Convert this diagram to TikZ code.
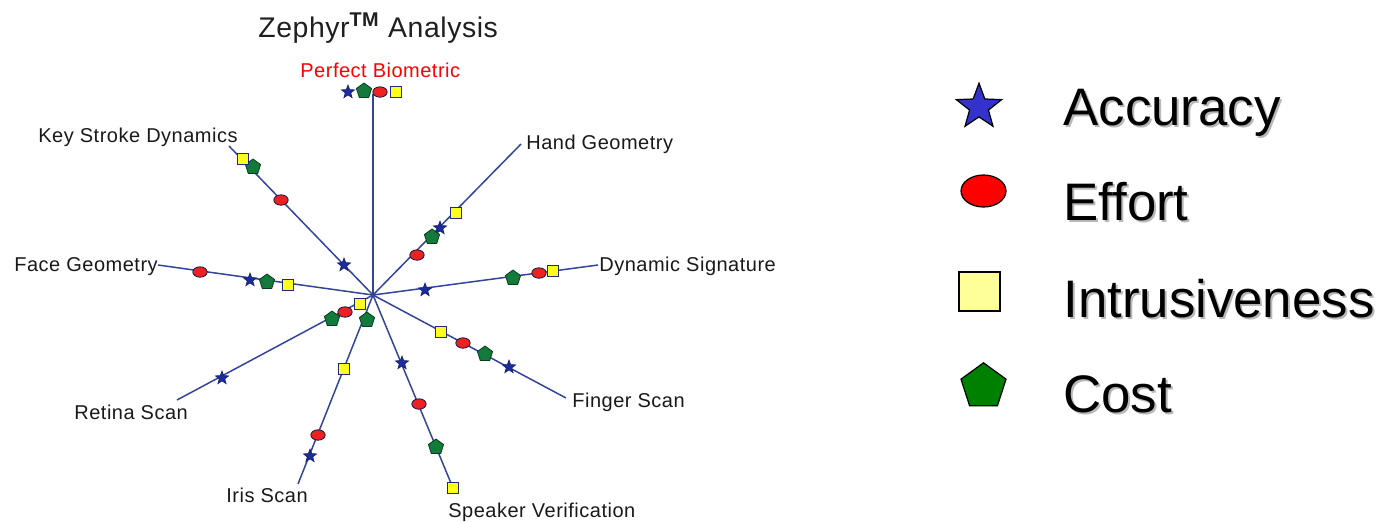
\documentclass[tikz,border=0pt]{standalone}
\usepackage{fontspec}
\setmainfont{Liberation Sans}
\newfontfamily\labfont[LetterSpace=2.5]{Liberation Sans}
\newfontfamily\titfont[LetterSpace=2]{Liberation Sans}
\usetikzlibrary{shapes.geometric}
\definecolor{linec}{HTML}{34449A}
\definecolor{starc}{HTML}{1C2C9C}
\definecolor{redc}{HTML}{EE2020}
\definecolor{yelc}{HTML}{FFFF1E}
\definecolor{grnc}{HTML}{127A3A}
\definecolor{navyc}{HTML}{202A80}
\definecolor{lstar}{HTML}{3333CC}
\definecolor{lyel}{HTML}{FFFF99}
\definecolor{lgrn}{HTML}{008000}
\begin{document}
\begin{tikzpicture}[x=0.5pt,y=-0.5pt,
  spoke/.style={draw=linec, line width=0.75pt},
  acc/.style={star, star points=5, star point ratio=2.4, fill=starc, draw=starc!70!black, line width=0.3pt, inner sep=0pt, minimum size=7pt},
  eff/.style={ellipse, fill=redc, draw=navyc!60!black, line width=0.4pt, inner sep=0pt, minimum width=7.2pt, minimum height=5.2pt},
  intr/.style={rectangle, fill=yelc, draw=navyc, line width=0.5pt, inner sep=0pt, minimum size=5.6pt},
  cst/.style={regular polygon, regular polygon sides=5, fill=grnc, draw=grnc!50!black, line width=0.4pt, inner sep=0pt, minimum size=8pt},
  lab/.style={font=\labfont\fontsize{10}{12}\selectfont, text=black!90, inner sep=0pt, anchor=base west},
  legt/.style={font=\fontsize{26.4}{30}\selectfont, inner sep=0pt, anchor=base west},
  legs/.style={legt, text=black!28}
]
\useasboundingbox (0,0) rectangle (1380,521);

% title
\node[anchor=base west, inner sep=0pt, font=\titfont\fontsize{14.2}{16}\selectfont, text=black!88] (title) at (258,37) {Zephyr\textsuperscript{\bfseries TM} Analysis};

% labels
\node[lab, text=red] (lPB) at (300,77) {Perfect Biometric};
\node[lab] (lKS) at (38,142) {Key Stroke Dynamics};
\node[lab] (lFG) at (14,271) {Face Geometry};
\node[lab] (lHG) at (526,149) {Hand Geometry};
\node[lab] (lDS) at (599,271) {Dynamic Signature};
\node[lab] (lFS) at (572,407) {Finger Scan};
\node[lab] (lSV) at (448,517) {Speaker Verification};
\node[lab] (lIS) at (226,502) {Iris Scan};
\node[lab] (lRS) at (74,419) {Retina Scan};

% spokes
\coordinate (c) at (373,295);
\coordinate (ePB) at (373,94);
\coordinate (eKS) at (229,146);
\coordinate (eFG) at (158,265);
\coordinate (eHG) at (521,144);
\coordinate (eDS) at (598,265);
\coordinate (eFS) at (566,398);
\coordinate (eSV) at (453,488);
\coordinate (eIS) at (298,484);
\coordinate (eRS) at (177,400);
\foreach \e in {ePB,eKS,eFG,eHG,eDS,eFS,eSV,eIS,eRS}
  \draw[spoke] (c) -- (\e);

% markers
\foreach \p [count=\i] in {(348,92),(344,265),(250,280),(440,228),(425,290),(509,367),(402,363),(310,456),(222,378)}
  \node[acc] (a\i) at \p {};
\foreach \p [count=\i] in {(364,91),(253,167),(267,282),(432,237),(513,278),(485,354),(436,447),(367,320),(332,319)}
  \node[cst] (g\i) at \p {};
\foreach \p [count=\i] in {(380,92),(281,200),(200,272),(417,255),(539,273),(463,343),(419,404),(318,435),(345,312)}
  \node[eff] (r\i) at \p {};
\foreach \p [count=\i] in {(396,92),(243,159),(288,285),(456,213),(553,271),(441,332),(453,488),(344,369),(360,304)}
  \node[intr] (y\i) at \p {};

% legend symbols
\node[star, star points=5, star point ratio=2.4, fill=lstar, draw=black, line width=0.6pt, inner sep=0pt, minimum size=23.8pt] (LA) at (979,107) {};
\node[ellipse, fill=red, draw=black, line width=0.6pt, inner sep=0pt, minimum width=22.5pt, minimum height=16pt] (LE) at (983.5,191) {};
\node[rectangle, fill=lyel, draw=black, line width=0.6pt, inner sep=0pt, minimum width=20.5pt, minimum height=19.5pt] (LI) at (979.5,291.5) {};
\node[regular polygon, regular polygon sides=5, fill=lgrn, draw=black, line width=0.6pt, inner sep=0pt, minimum size=23.7pt] (LC) at (983.5,386.5) {};

% legend texts with shadow
\node[legs] (sA) at (1065,127) {Accuracy};
\node[legt] (tA) at (1063,125) {Accuracy};
\node[legs] (sE) at (1065,222) {Effort};
\node[legt] (tE) at (1063,220) {Effort};
\node[legs] (sI) at (1065,319) {Intrusiveness};
\node[legt] (tI) at (1063,317) {Intrusiveness};
\node[legs] (sC) at (1065,414) {Cost};
\node[legt] (tC) at (1063,412) {Cost};
\end{tikzpicture}
\end{document}
